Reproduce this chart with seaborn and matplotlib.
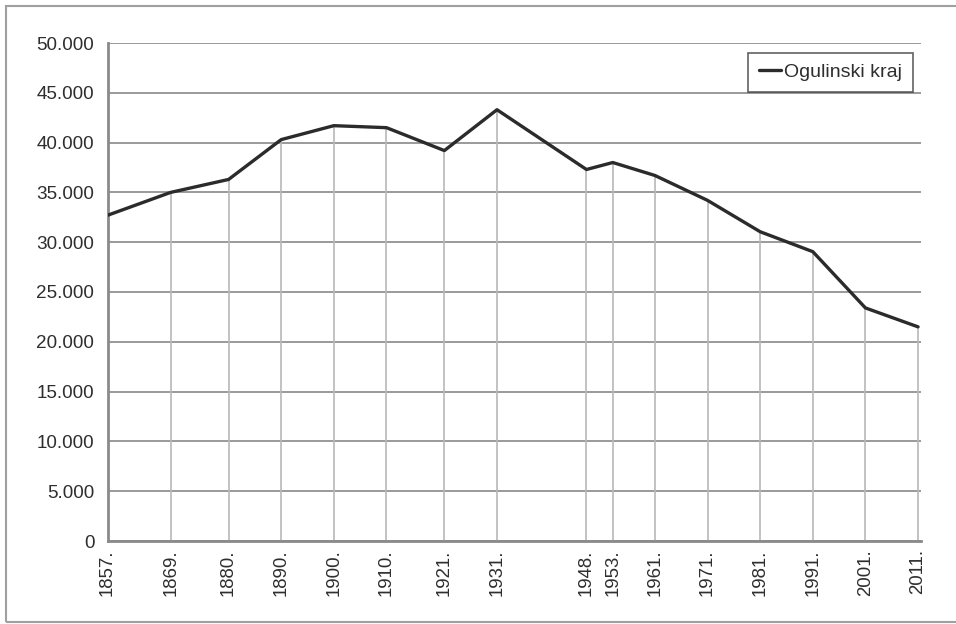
import matplotlib
matplotlib.use("Agg")
import matplotlib.pyplot as plt
import matplotlib.ticker as mticker
from matplotlib.patches import Rectangle
import seaborn as sns
import pandas as pd

years = [1857, 1869, 1880, 1890, 1900, 1910, 1921, 1931,
         1948, 1953, 1961, 1971, 1981, 1991, 2001, 2011]
population = [32700, 35000, 36300, 40300, 41700, 41500, 39200, 43300,
              37300, 38000, 36700, 34200, 31050, 29050, 23400, 21500]
series_name = "Ogulinski kraj"
y_ticks = [0, 5000, 10000, 15000, 20000, 25000, 30000, 35000, 40000, 45000, 50000]

df = pd.DataFrame({"year": years, "pop": population})

sns.set_style("white")
plt.rcParams["font.family"] = ["Liberation Sans Narrow", "Liberation Sans", "DejaVu Sans"]

fig = plt.figure(figsize=(9.56, 6.24), dpi=100)
ax = fig.add_axes([107.5 / 956, 1 - 541 / 624, (920.7 - 107.5) / 956, (541 - 43) / 624])

text_col = "#2e2e2e"
# horizontal grid
ax.set_yticks(y_ticks)
ax.yaxis.grid(True, color="#9a9a9a", lw=1.4)
ax.xaxis.grid(False)
ax.set_axisbelow(True)

# drop lines from each point
ax.vlines(df["year"], 0, df["pop"], colors="#b8b8b8", lw=1.2, zorder=1)

sns.lineplot(data=df, x="year", y="pop", ax=ax, color="#2b2b2b", lw=2.4,
             label=series_name, zorder=3)

ax.set_xlim(1857, 2011.5)
ax.set_ylim(0, 50000)
ax.set_xticks(years)
ax.set_xticklabels([f"{y}." for y in years], rotation=90)
ax.yaxis.set_major_formatter(mticker.FuncFormatter(lambda v, p: f"{int(v):,}".replace(",", ".")))
ax.tick_params(axis="y", length=3.5, width=1.2, color="#8a8a8a", pad=6, labelsize=13.6, labelcolor=text_col)
ax.tick_params(axis="x", length=0, pad=6, labelsize=13.4, labelcolor=text_col)
ax.set_xlabel("")
ax.set_ylabel("")

for s in ["top", "right"]:
    ax.spines[s].set_visible(False)
for s in ["left", "bottom"]:
    ax.spines[s].set_color("#8a8a8a")
    ax.spines[s].set_linewidth(2)

leg = ax.legend(loc="upper right", bbox_to_anchor=(0.9905, 0.98), borderaxespad=0,
                frameon=True, fancybox=False, handlelength=1.15, handletextpad=0.15,
                borderpad=0.55, prop={"family": ["Liberation Sans", "DejaVu Sans"], "size": 14})
leg.get_frame().set_edgecolor("#3a3a3a")
leg.get_frame().set_linewidth(1.2)
leg.get_frame().set_facecolor("white")
for t in leg.get_texts():
    t.set_color(text_col)

fig.patches.append(Rectangle((6 / 956, 2.3 / 624), 1.0, (621.7 - 6) / 624,
                             transform=fig.transFigure, fill=False,
                             edgecolor="#a0a0a0", lw=1.5, clip_on=False))

fig.savefig("out.png", dpi=100, facecolor="white")
